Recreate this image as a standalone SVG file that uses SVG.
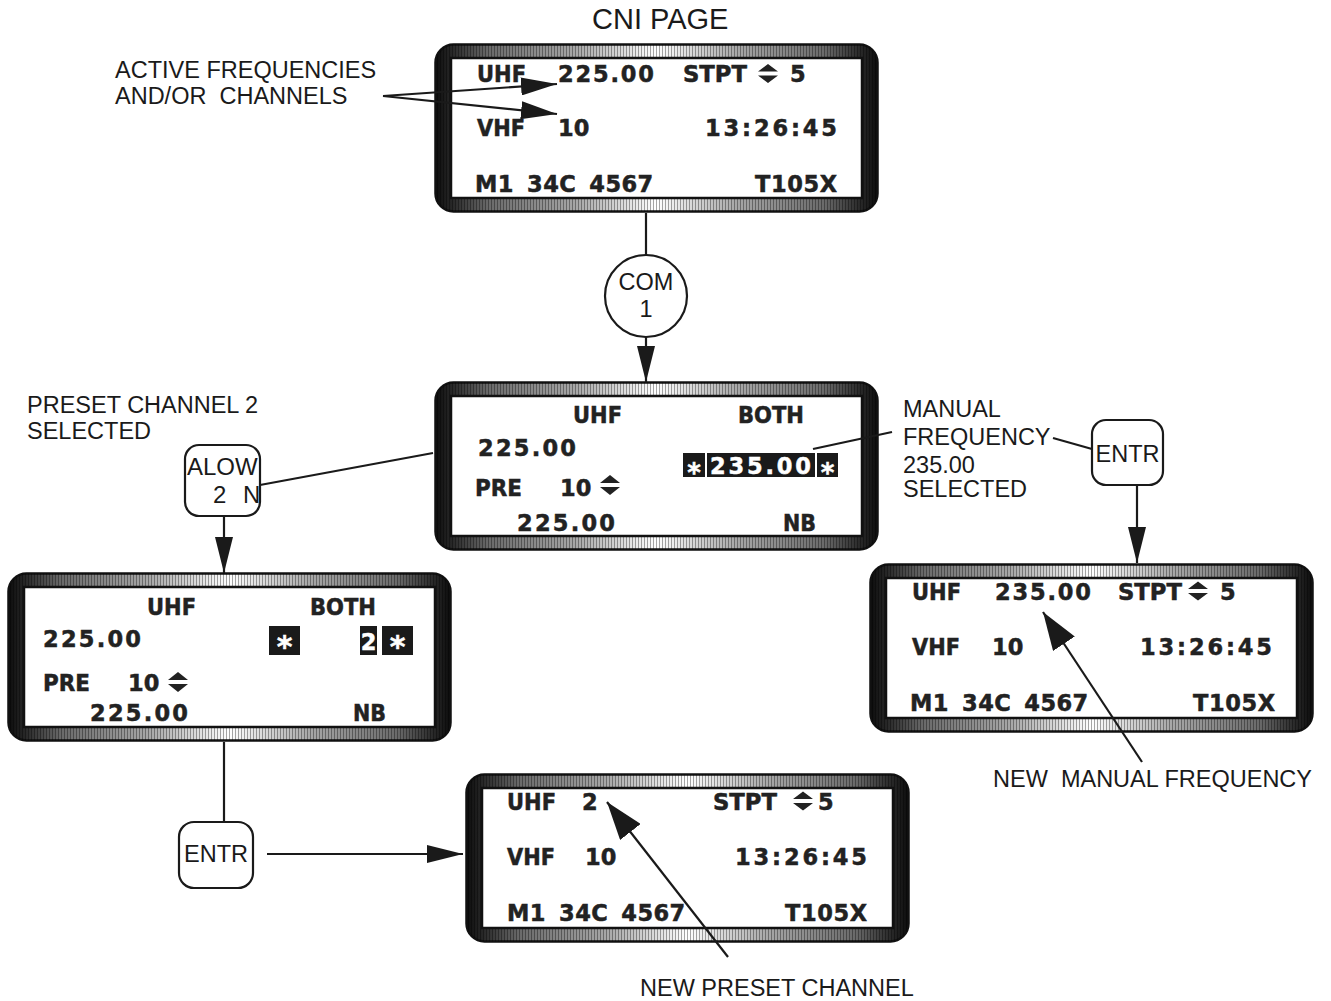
<svg xmlns="http://www.w3.org/2000/svg" xmlns:xlink="http://www.w3.org/1999/xlink" width="1331" height="1001" viewBox="0 0 1331 1001">
<style>
.lbl{font-family:"Liberation Sans",Arial,sans-serif;font-size:23.5px;fill:#1a1a1a;white-space:pre}
.d{font-family:"DejaVu Sans",sans-serif;font-weight:bold;font-size:22.5px;fill:#222;stroke:#222;stroke-width:0.5;white-space:pre}
.m{letter-spacing:0.4px;word-spacing:5px}
.w{fill:#fff;stroke:#fff}
.conn line{stroke:#1a1a1a;stroke-width:2.2;fill:none}
.btn{fill:#fff;stroke:#1a1a1a;stroke-width:2.2}
.hl{fill:#1a1a1a}
.ud{fill:#222}
</style>
<defs>
<linearGradient id="bez" x1="0" y1="0" x2="1" y2="0">
<stop offset="0" stop-color="#0d0d0d"/>
<stop offset="0.04" stop-color="#2a2a2a"/>
<stop offset="0.12" stop-color="#6a6a6a"/>
<stop offset="0.32" stop-color="#a8a8a8"/>
<stop offset="0.5" stop-color="#ffffff"/>
<stop offset="0.68" stop-color="#a8a8a8"/>
<stop offset="0.88" stop-color="#6a6a6a"/>
<stop offset="0.96" stop-color="#2a2a2a"/>
<stop offset="1" stop-color="#0d0d0d"/>
</linearGradient>
<pattern id="stripes" patternUnits="userSpaceOnUse" width="3" height="10">
<rect x="0" y="0" width="1" height="10" fill="#000" fill-opacity="0.35"/>
</pattern>
<symbol id="frame" viewBox="0 0 445 170" width="445" height="170">
<rect x="1.5" y="1.5" width="442" height="167" rx="18" fill="url(#bez)" stroke="#111" stroke-width="2.5"/>
<rect x="1.5" y="1.5" width="442" height="167" rx="18" fill="url(#stripes)"/>
<rect x="17" y="15" width="411" height="140" fill="#fff" stroke="#111" stroke-width="2.5"/>
</symbol>
<marker id="ah" markerUnits="userSpaceOnUse" markerWidth="36" markerHeight="18" refX="36" refY="9" orient="auto">
<path d="M0,0 L36,9 L0,18 z" fill="#1a1a1a"/>
</marker>
<marker id="ahb" markerUnits="userSpaceOnUse" markerWidth="38" markerHeight="26" refX="38" refY="13" orient="auto">
<path d="M0,0 L38,13 L0,26 z" fill="#1a1a1a"/>
</marker>
</defs>
<rect width="1331" height="1001" fill="#fff"/>

<g id="title"><text class="lbl" x="592" y="29" style="font-size:29px">CNI PAGE</text></g>

<g id="label-active">
<text class="lbl" x="115" y="78">ACTIVE FREQUENCIES</text>
<text class="lbl" x="115" y="104">AND/OR  CHANNELS</text>
</g>

<g id="cni-page">
<use xlink:href="#frame" x="434" y="43"/>
<text class="d" x="477" y="82" textLength="49" lengthAdjust="spacingAndGlyphs">UHF</text>
<text class="d" x="558" y="82" textLength="96" lengthAdjust="spacing">225.00</text>
<text class="d" x="683" y="82" textLength="64" lengthAdjust="spacingAndGlyphs">STPT</text>
<path class="ud" d="M758,71.5 L768,64 L778,71.5 Z M758,75.5 L768,83 L778,75.5 Z"/>
<text class="d" x="790" y="82">5</text>
<text class="d" x="477" y="136" textLength="48" lengthAdjust="spacingAndGlyphs">VHF</text>
<text class="d" x="558" y="136">10</text>
<text class="d" x="705" y="136" textLength="132" lengthAdjust="spacing">13:26:45</text>
<text class="d m" x="475" y="192">M1 34C 4567</text>
<text class="d" x="755" y="192" textLength="82" lengthAdjust="spacing">T105X</text>
</g>

<g id="com1">
<circle cx="646" cy="296" r="41" fill="#fff" stroke="#1a1a1a" stroke-width="2.2"/>
<text class="lbl" x="646" y="290" text-anchor="middle">COM</text>
<text class="lbl" x="646" y="317" text-anchor="middle">1</text>
</g>

<g id="uhf-both-manual">
<use xlink:href="#frame" x="434" y="381"/>
<text class="d" x="573" y="423" textLength="49" lengthAdjust="spacingAndGlyphs">UHF</text>
<text class="d" x="738" y="423" textLength="66" lengthAdjust="spacingAndGlyphs">BOTH</text>
<text class="d" x="478" y="456" textLength="98" lengthAdjust="spacing">225.00</text>
<rect class="hl" x="683" y="453" width="22" height="24"/>
<rect class="hl" x="707" y="453" width="108" height="24"/>
<rect class="hl" x="817" y="453" width="21" height="24"/>
<text class="d w" x="694" y="482" text-anchor="middle" style="font-size:26px">*</text>
<text class="d w" x="710" y="474" textLength="101" lengthAdjust="spacing">235.00</text>
<text class="d w" x="827.5" y="482" text-anchor="middle" style="font-size:26px">*</text>
<text class="d" x="475" y="496" textLength="47" lengthAdjust="spacingAndGlyphs">PRE</text>
<text class="d" x="560" y="496">10</text>
<path class="ud" d="M600,483 L610,475 L620,483 Z M600,487 L610,495 L620,487 Z"/>
<text class="d" x="517" y="531" textLength="98" lengthAdjust="spacing">225.00</text>
<text class="d" x="783" y="531" textLength="33" lengthAdjust="spacingAndGlyphs">NB</text>
</g>

<g id="label-preset">
<text class="lbl" x="27" y="413">PRESET CHANNEL 2</text>
<text class="lbl" x="27" y="439">SELECTED</text>
</g>

<g id="alow-2n">
<rect class="btn" x="185" y="445" width="75" height="71" rx="14"/>
<text class="lbl" x="187" y="475" style="font-size:24px">ALOW</text>
<text class="lbl" x="213" y="503" style="font-size:24px;word-spacing:10px">2 N</text>
</g>

<g id="label-manual">
<text class="lbl" x="903" y="417">MANUAL</text>
<text class="lbl" x="903" y="445">FREQUENCY</text>
<text class="lbl" x="903" y="473">235.00</text>
<text class="lbl" x="903" y="497">SELECTED</text>
</g>

<g id="entr-right">
<rect class="btn" x="1092" y="420" width="71" height="65" rx="14"/>
<text class="lbl" x="1127.5" y="462" text-anchor="middle">ENTR</text>
</g>

<g id="uhf-both-preset">
<use xlink:href="#frame" x="7" y="572"/>
<text class="d" x="147" y="615" textLength="49" lengthAdjust="spacingAndGlyphs">UHF</text>
<text class="d" x="310" y="615" textLength="66" lengthAdjust="spacingAndGlyphs">BOTH</text>
<text class="d" x="43" y="647" textLength="98" lengthAdjust="spacing">225.00</text>
<rect class="hl" x="269" y="626" width="31" height="29"/>
<text class="d w" x="284.5" y="657" text-anchor="middle" style="font-size:30px">*</text>
<rect class="hl" x="360" y="626" width="17" height="29"/>
<text class="d w" x="368.5" y="650" text-anchor="middle">2</text>
<rect class="hl" x="382" y="626" width="31" height="29"/>
<text class="d w" x="397.5" y="657" text-anchor="middle" style="font-size:30px">*</text>
<text class="d" x="43" y="691" textLength="47" lengthAdjust="spacingAndGlyphs">PRE</text>
<text class="d" x="128" y="691">10</text>
<path class="ud" d="M168,680 L178,672 L188,680 Z M168,684 L178,692 L188,684 Z"/>
<text class="d" x="90" y="721" textLength="98" lengthAdjust="spacing">225.00</text>
<text class="d" x="353" y="721" textLength="33" lengthAdjust="spacingAndGlyphs">NB</text>
</g>

<g id="cni-manual">
<use xlink:href="#frame" x="869" y="563"/>
<text class="d" x="912" y="600" textLength="49" lengthAdjust="spacingAndGlyphs">UHF</text>
<text class="d" x="995" y="600" textLength="96" lengthAdjust="spacing">235.00</text>
<text class="d" x="1118" y="600" textLength="64" lengthAdjust="spacingAndGlyphs">STPT</text>
<path class="ud" d="M1188,589 L1198,581.5 L1208,589 Z M1188,593 L1198,600.5 L1208,593 Z"/>
<text class="d" x="1220" y="600">5</text>
<text class="d" x="912" y="655" textLength="48" lengthAdjust="spacingAndGlyphs">VHF</text>
<text class="d" x="992" y="655">10</text>
<text class="d" x="1140" y="655" textLength="132" lengthAdjust="spacing">13:26:45</text>
<text class="d m" x="910" y="711">M1 34C 4567</text>
<text class="d" x="1193" y="711" textLength="82" lengthAdjust="spacing">T105X</text>
</g>

<g id="label-new-manual">
<text class="lbl" x="993" y="787">NEW  MANUAL FREQUENCY</text>
</g>

<g id="entr-left">
<rect class="btn" x="179" y="822" width="74" height="66" rx="15"/>
<text class="lbl" x="216" y="862" text-anchor="middle">ENTR</text>
</g>

<g id="cni-preset">
<use xlink:href="#frame" x="465" y="773"/>
<text class="d" x="507" y="810" textLength="49" lengthAdjust="spacingAndGlyphs">UHF</text>
<text class="d" x="582" y="810">2</text>
<text class="d" x="713" y="810" textLength="64" lengthAdjust="spacingAndGlyphs">STPT</text>
<path class="ud" d="M793,799 L803,791.5 L813,799 Z M793,803 L803,810.5 L813,803 Z"/>
<text class="d" x="818" y="810">5</text>
<text class="d" x="507" y="865" textLength="48" lengthAdjust="spacingAndGlyphs">VHF</text>
<text class="d" x="585" y="865">10</text>
<text class="d" x="735" y="865" textLength="132" lengthAdjust="spacing">13:26:45</text>
<text class="d m" x="507" y="921">M1 34C 4567</text>
<text class="d" x="785" y="921" textLength="82" lengthAdjust="spacing">T105X</text>
</g>

<g id="label-new-preset">
<text class="lbl" x="640" y="996">NEW PRESET CHANNEL</text>
</g>

<g id="connectors" class="conn">
<line x1="383" y1="96" x2="557" y2="84" marker-end="url(#ah)"/>
<line x1="383" y1="96" x2="557" y2="114" marker-end="url(#ah)"/>
<line x1="646" y1="213" x2="646" y2="255"/>
<line x1="646" y1="337" x2="646" y2="382" marker-end="url(#ah)"/>
<line x1="260" y1="485" x2="433" y2="453"/>
<line x1="224" y1="516" x2="224" y2="573" marker-end="url(#ah)"/>
<line x1="224" y1="742" x2="224" y2="822"/>
<line x1="267" y1="854" x2="463" y2="854" marker-end="url(#ah)"/>
<line x1="813" y1="449" x2="892" y2="432"/>
<line x1="1053" y1="438" x2="1092" y2="449"/>
<line x1="1137" y1="485" x2="1137" y2="563" marker-end="url(#ah)"/>
<line x1="1142" y1="762" x2="1043" y2="612" marker-end="url(#ahb)"/>
<line x1="728" y1="957" x2="607" y2="802" marker-end="url(#ahb)"/>
</g>
</svg>
